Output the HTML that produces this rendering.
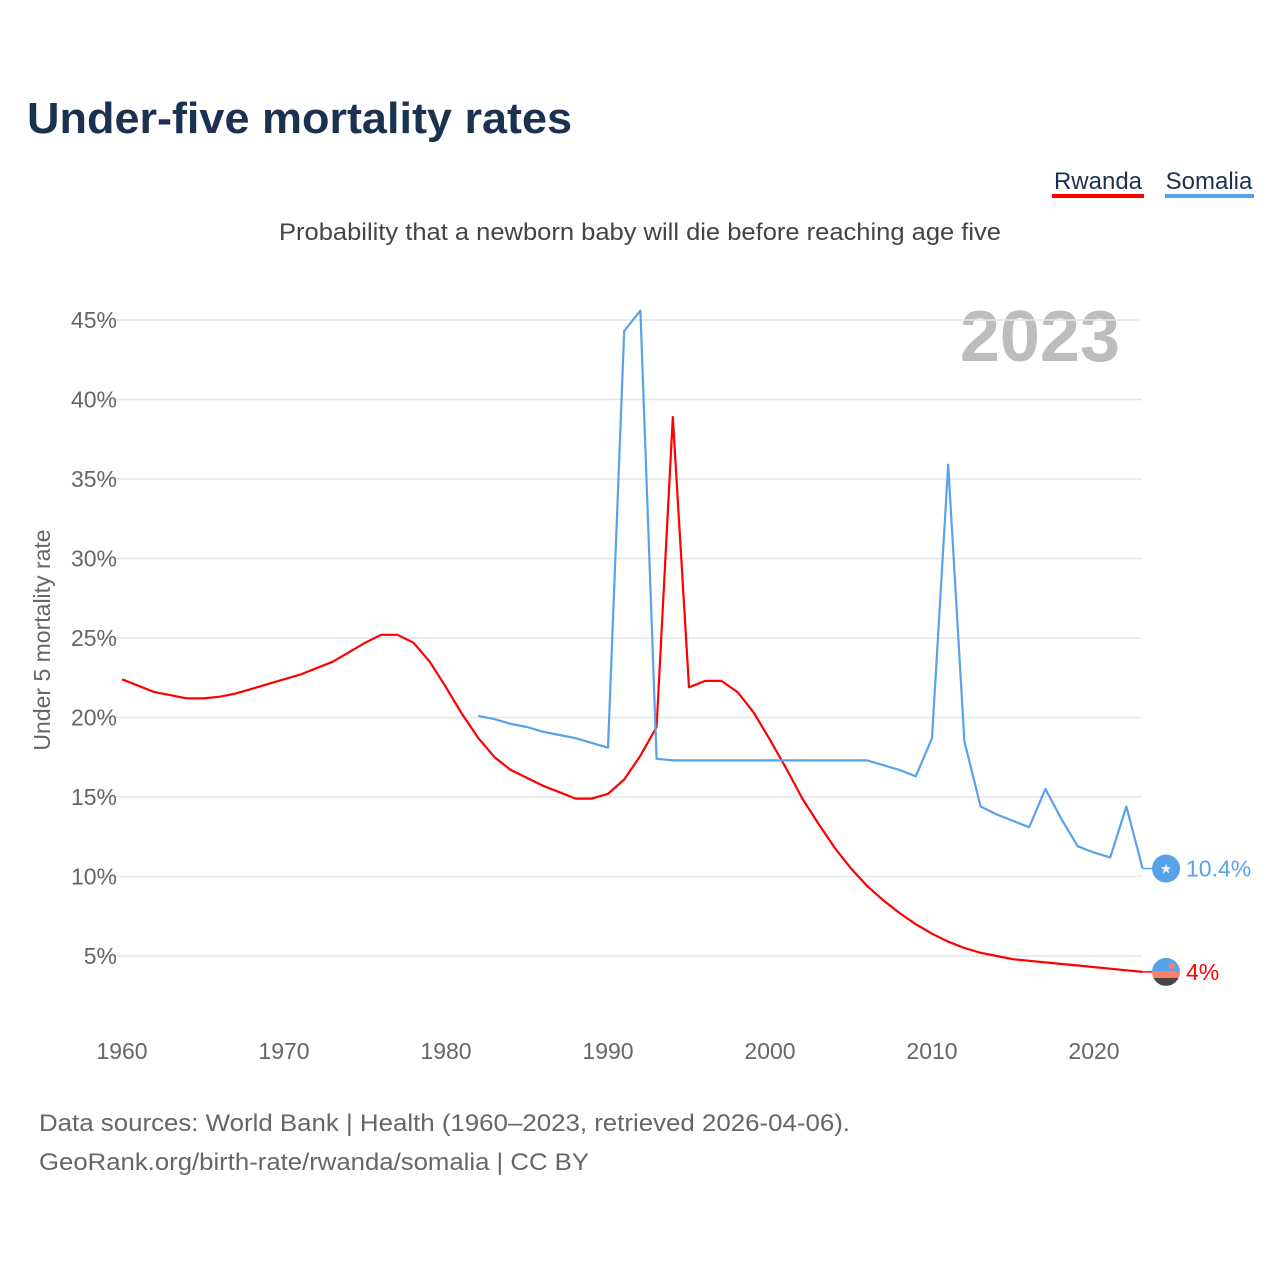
<!DOCTYPE html>
<html><head><meta charset="utf-8"><style>
html,body{margin:0;padding:0;background:#fff;}
body{width:1280px;height:1280px;position:relative;overflow:hidden;font-family:"Liberation Sans",sans-serif;}
svg text{font-family:"Liberation Sans",sans-serif;}
</style></head><body>
<svg id="chart" width="1280" height="1280" xmlns="http://www.w3.org/2000/svg">
<text x="27" y="133" font-size="44" font-weight="bold" fill="#1a3150" textLength="545" lengthAdjust="spacingAndGlyphs">Under-five mortality rates</text>
<text x="1098" y="189" font-size="24" fill="#1a3150" text-anchor="middle">Rwanda</text>
<rect x="1052" y="194" width="92" height="4" fill="#ff0000"/>
<text x="1209" y="189" font-size="24" fill="#1a3150" text-anchor="middle">Somalia</text>
<rect x="1165" y="194" width="89" height="4" fill="#58a2ea"/>
<text x="279" y="240" font-size="24" fill="#444" textLength="722" lengthAdjust="spacingAndGlyphs">Probability that a newborn baby will die before reaching age five</text>
<text x="1120" y="361" font-size="72" font-weight="bold" fill="#bdbdbd" text-anchor="end">2023</text>
<g id="grid"></g><g id="yticks"></g><g id="xticks"></g>
<text transform="translate(50,640) rotate(-90)" font-size="23" fill="#666" text-anchor="middle">Under 5 mortality rate</text>
<g id="lines"></g>
<text x="39" y="1131" font-size="24" fill="#666" textLength="811" lengthAdjust="spacingAndGlyphs">Data sources: World Bank | Health (1960–2023, retrieved 2026-04-06).</text>
<text x="39" y="1170" font-size="24" fill="#666" textLength="550" lengthAdjust="spacingAndGlyphs">GeoRank.org/birth-rate/rwanda/somalia | CC BY</text>
</svg>
<script>
const yTicks=[5,10,15,20,25,30,35,40,45];
const xTicks=[1960,1970,1980,1990,2000,2010,2020];
const rwandaYears=[];for(let y=1960;y<=2023;y++)rwandaYears.push(y);
const rwandaValues=[22.4,22.0,21.6,21.4,21.2,21.2,21.3,21.5,21.8,22.1,22.4,22.7,23.1,23.5,24.1,24.7,25.2,25.2,24.7,23.5,21.9,20.2,18.7,17.5,16.7,16.2,15.7,15.3,14.9,14.9,15.2,16.1,17.6,19.4,38.9,21.9,22.3,22.3,21.6,20.3,18.6,16.8,14.9,13.3,11.8,10.5,9.4,8.5,7.7,7.0,6.4,5.9,5.5,5.2,5.0,4.8,4.7,4.6,4.5,4.4,4.3,4.2,4.1,4.0];
const somaliaYears=[];for(let y=1982;y<=2023;y++)somaliaYears.push(y);
const somaliaValues=[20.1,19.9,19.6,19.4,19.1,18.9,18.7,18.4,18.1,44.3,45.6,17.4,17.3,17.3,17.3,17.3,17.3,17.3,17.3,17.3,17.3,17.3,17.3,17.3,17.3,17.0,16.7,16.3,18.7,35.9,18.5,14.4,13.9,13.5,13.1,15.5,13.6,11.9,11.5,11.2,14.4,10.5];
const rwandaLabel="4%";const somaliaLabel="10.4%";
const NS="http://www.w3.org/2000/svg";
const X=y=>122+(y-1960)*16.2;
const Y=v=>1035.5-v*15.9;
function mk(t,a,p){const e=document.createElementNS(NS,t);for(const k in a)e.setAttribute(k,a[k]);document.getElementById(p).appendChild(e);return e;}
yTicks.forEach(v=>{
 const l=mk('line',{x1:104,x2:1142,y1:Y(v),y2:Y(v),stroke:'#e6e6e6','stroke-width':1.5},'grid');
 
 
 const t=mk('text',{x:117,y:Y(v)+8,'font-size':23,fill:'#666','text-anchor':'end'},'yticks');
 t.textContent=v+'%';
 
 
});
xTicks.forEach(v=>{
 const t=mk('text',{x:X(v),y:1059,'font-size':23,fill:'#666','text-anchor':'middle'},'xticks');
 t.textContent=v;
 
 
});
function series(years,vals,color,name,label,flag){
 const d=years.map((y,i)=>(i?'L':'M')+X(y).toFixed(1)+','+Y(vals[i]).toFixed(1)).join('');
 const p=mk('path',{d:d,fill:'none',stroke:color,'stroke-width':2.2,'stroke-linejoin':'round'},'lines');
 
 
 const lx=X(years[years.length-1]),ly=Y(vals[vals.length-1]);
 const c=mk('line',{x1:lx,x2:1152,y1:ly,y2:ly,stroke:color,'stroke-width':1.5},'lines');
 
 
 const g=mk('g',{},'lines');
 
 
 g.innerHTML=flag(1166,ly);
 const t=mk('text',{x:1186,y:ly+8,'font-size':23,fill:color},'lines');
 t.textContent=label;
 
 
}
series(rwandaYears,rwandaValues,'#ff0000','rwanda',rwandaLabel,(x,y)=>`<defs><clipPath id="rc"><circle cx="${x}" cy="${y}" r="14"/></clipPath></defs><g clip-path="url(#rc)"><rect x="${x-14}" y="${y-14}" width="28" height="14" fill="#58a2ea"/><rect x="${x-14}" y="${y}" width="28" height="6" fill="#ff7f6a"/><rect x="${x-14}" y="${y+6}" width="28" height="8" fill="#444"/><circle cx="${x+6}" cy="${y-6}" r="3" fill="#ff7f6a"/></g>`);
series(somaliaYears,somaliaValues,'#58a2ea','somalia',somaliaLabel,(x,y)=>`<circle cx="${x}" cy="${y}" r="14" fill="#58a2ea"/><text x="${x}" y="${y+5}" font-size="14" fill="#eee" text-anchor="middle">★</text>`);
</script>
</body></html>
